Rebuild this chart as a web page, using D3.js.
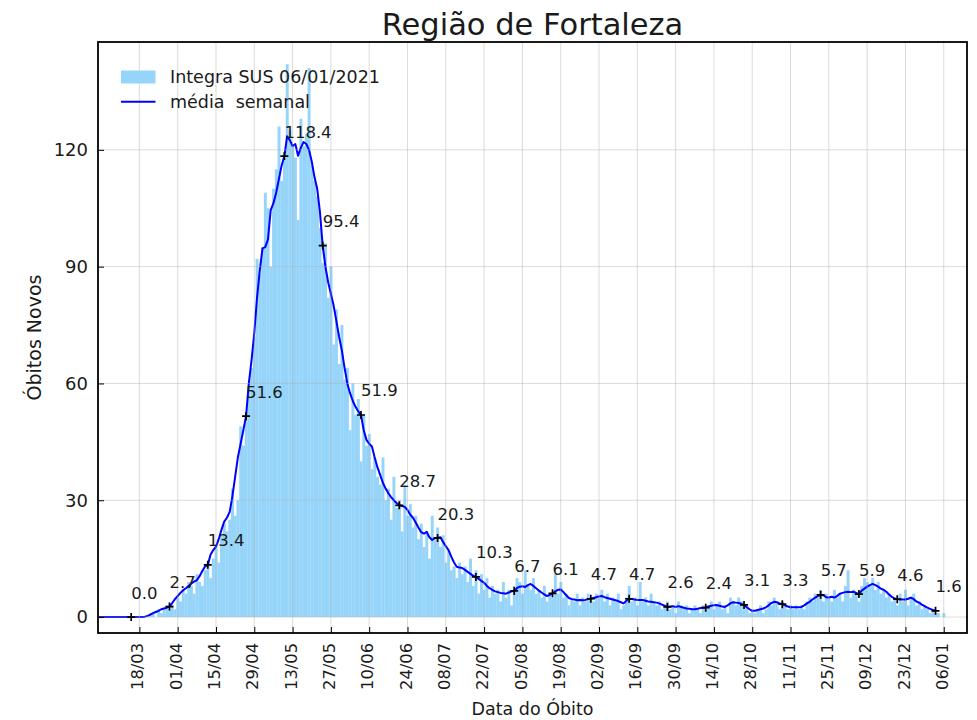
<!DOCTYPE html>
<html>
<head>
<meta charset="utf-8">
<script src="https://cdnjs.cloudflare.com/ajax/libs/d3/7.8.5/d3.min.js"></script>
<style>
    body { margin: 0; background: #fff; }
    text { font-family: "DejaVu Sans", sans-serif; fill: #1a1a1a; }
</style>
</head>
<body>
<svg id="chart" width="977" height="720"></svg>
<script>
// dia 0 = 01/03/2020
let inicio = new Date(2020, 2, 1);

// óbitos novos por dia (d0 .. d311 = 06/01/2021)
let obitos = [
    0,0,0,0,0,0,0,0,0,0,0,0,0,0,0,0,0,0,0,0,0,
    1,1,0,2,1,2,3,
    2,3,2,5,4,7,6,
    9,8,6,11,9,8,12,
    14,10,15,18,14,21,24,
    22,25,33,26,30,49,44,
    52,58,64,72,92,88,95,
    109,105,90,110,115,126,112,
    118,142,125,121,118,102,128,
    121,124,141,116,112,108,100,
    91,96,82,90,70,79,65,
    75,61,64,48,60,52,56,
    40,52,44,47,38,41,36,
    34,41,30,33,25,36,28,
    30,22,34,26,29,23,26,
    20,24,18,22,15,26,20,
    23,18,21,14,17,12,13,
    10,14,11,13,9,15,8,
    12,6,11,7,10,5,8,
    6,7,4,9,5,7,3,
    8,10,9,6,12,8,7,
    10,6,7,5,8,4,6,
    5,11,6,9,5,6,3,
    5,4,6,3,5,4,6,
    5,4,6,5,7,4,6,
    3,5,4,6,2,3,5,
    8,4,5,3,9,4,5,
    3,6,4,3,4,2,3,
    4,2,3,1,4,3,2,
    3,1,2,3,2,1,3,
    2,3,4,2,3,4,2,
    3,1,5,4,3,5,4,
    2,3,1,2,1,2,3,
    1,2,4,3,5,4,2,
    4,3,2,3,2,3,2,
    3,2,4,5,4,6,5,
    7,4,6,5,4,7,5,
    6,4,8,12,5,7,6,
    4,8,10,9,8,10,7,
    9,6,7,5,6,4,5,
    3,6,4,7,3,5,6,
    3,4,2,3,2,1,2,
    1,1,0,1
];

// média semanal (centrada), d0 .. d308
let mediaSemanal = [
    0,0,0,0,0,0,0,0,0,0,0,0,0,0,0,0,0,0,0,
    0.1,0.3,0.6,1.0,1.3,1.6,2.0,2.2,2.4,
    2.7,3.6,4.6,5.4,6.2,6.9,7.4,
    8.0,8.6,9.1,9.5,10.5,11.8,13.0,
    13.4,16.0,17.2,18.1,20.0,22.4,24.5,
    25.5,27.0,31.0,36.0,41.0,44.5,48.0,
    51.6,60.0,66.0,73.0,82.0,89.0,94.7,
    95.0,97.0,104.5,106.3,109.0,112.5,116.0,
    118.4,123.5,122.5,121.0,121.5,118.5,120.5,
    122.0,121.5,120.0,117.0,113.0,110.0,104.0,
    95.4,90.0,86.0,83.0,80.0,76.0,72.0,
    68.5,64.0,60.0,57.5,55.5,54.0,52.8,
    51.9,48.0,45.5,44.5,43.8,41.0,38.5,
    36.5,34.5,33.0,31.8,30.8,30.0,29.3,
    28.7,28.5,28.3,27.5,26.3,25.5,24.3,
    23.0,21.8,21.4,21.9,20.5,19.8,20.3,
    20.3,20.5,19.3,18.2,17.2,15.5,14.0,
    12.9,12.7,12.6,12.1,11.6,11.1,10.6,
    10.3,9.8,9.3,8.8,8.0,7.4,7.0,
    6.6,6.4,6.2,6.1,6.0,6.3,6.6,
    6.7,7.4,7.8,7.9,7.7,8.2,8.5,
    8.0,7.4,6.8,6.3,5.8,5.4,5.7,
    6.1,6.6,7.0,7.1,6.4,5.6,4.9,
    4.6,4.5,4.3,4.4,4.3,4.4,4.6,
    4.7,4.9,5.1,5.3,5.4,5.1,4.9,
    4.7,4.5,4.3,4.1,3.8,3.5,4.2,
    4.7,4.6,4.5,4.4,4.4,4.4,4.2,
    4.0,3.9,3.8,3.7,3.5,3.2,2.9,
    2.6,2.7,2.8,2.6,2.8,2.6,2.4,
    2.2,2.1,2.0,2.0,2.1,2.3,2.4,
    2.4,2.7,2.9,3.0,3.1,2.9,2.7,
    2.6,3.0,3.5,3.8,3.7,3.6,3.4,
    3.1,2.5,2.0,1.6,1.6,1.8,2.0,
    2.2,2.5,3.0,3.6,3.9,3.8,3.5,
    3.3,3.0,2.7,2.5,2.5,2.5,2.5,
    2.6,3.0,3.5,3.9,4.5,5.0,5.4,
    5.7,5.6,5.1,5.0,5.2,5.0,5.4,
    6.0,6.2,6.4,6.5,6.4,6.5,6.2,
    5.9,6.8,7.3,7.8,8.2,8.5,8.2,
    7.8,7.3,7.0,6.5,5.8,5.2,4.8,
    4.6,4.5,4.5,4.5,4.7,5.0,4.6,
    4.0,3.7,3.2,2.8,2.4,2.1,1.8,
    1.6
];

// pontos anotados (a cada 14 dias)
let diasMarcados = [14,28,42,56,70,84,98,112,126,140,154,168,182,196,210,224,238,252,266,280,294,308];
let rotulos = ['0.0','2.7','13.4','51.6','118.4','95.4','51.9','28.7','20.3','10.3','6.7','6.1',
    '4.7','4.7','2.6','2.4','3.1','3.3','5.7','5.9','4.6','1.6'];

let ticksY = [0, 30, 60, 90, 120];
let ticksX = ['18/03/2020','01/04/2020','15/04/2020','29/04/2020','13/05/2020','27/05/2020','10/06/2020',
    '24/06/2020','08/07/2020','22/07/2020','05/08/2020','19/08/2020','02/09/2020','16/09/2020',
    '30/09/2020','14/10/2020','28/10/2020','11/11/2020','25/11/2020','09/12/2020','23/12/2020','06/01/2021'];

let parse = d3.timeParse('%d/%m/%Y');
function dia(i) {
    return d3.timeDay.offset(inicio, i);
}

let mLeft = 98, mRight = 967, mTop = 42, mBottom = 633;

let x = d3.scaleTime()
    .domain([new Date(2020, 2, 2, 21), new Date(2021, 0, 14, 12)])
    .range([mLeft, mRight]);
let y = d3.scaleLinear()
    .domain([-4.1, 147.7])
    .range([mBottom, mTop]);

let svg = d3.select('#chart');
svg.append('rect').attr('width', 977).attr('height', 720).attr('fill', '#fff');

svg.append('defs').append('clipPath').attr('id', 'clip')
    .append('rect')
    .attr('x', mLeft).attr('y', mTop)
    .attr('width', mRight - mLeft).attr('height', mBottom - mTop);

let plot = svg.append('g').attr('clip-path', 'url(#clip)');

// barras diárias
let larg = x(dia(1)) - x(dia(0));
plot.selectAll('rect.bar')
    .data(obitos)
    .enter().append('rect')
    .attr('class', 'bar')
    .attr('x', function (d, i) { return x(d3.timeHour.offset(dia(i), -12)); })
    .attr('y', function (d) { return y(d); })
    .attr('width', larg + 0.2)
    .attr('height', function (d) { return y(0) - y(d); })
    .attr('fill', '#96d4fa');

// grade
let grid = svg.append('g').attr('stroke', '#b0b0b0').attr('stroke-opacity', 0.45).attr('stroke-width', 1);
grid.selectAll('line.gx')
    .data(ticksX.map(parse))
    .enter().append('line')
    .attr('x1', function (d) { return x(d); })
    .attr('x2', function (d) { return x(d); })
    .attr('y1', mTop).attr('y2', mBottom);
grid.selectAll('line.gy')
    .data(ticksY)
    .enter().append('line')
    .attr('y1', function (d) { return y(d); })
    .attr('y2', function (d) { return y(d); })
    .attr('x1', mLeft).attr('x2', mRight);

// média semanal
let line = d3.line()
    .x(function (d, i) { return x(dia(i)); })
    .y(function (d) { return y(d); });
plot.append('path')
    .attr('d', line(mediaSemanal))
    .attr('fill', 'none')
    .attr('stroke', '#0000ff')
    .attr('stroke-width', 2)
    .attr('stroke-linejoin', 'round');

// marcadores + rótulos
let marcas = svg.append('g').selectAll('g')
    .data(diasMarcados)
    .enter().append('g')
    .attr('transform', function (d) {
        return `translate(${x(dia(d))},${y(mediaSemanal[d])})`;
    });
marcas.append('path')
    .attr('d', 'M-4,0H4M0,-4V4')
    .attr('stroke', '#000')
    .attr('stroke-width', 1.7);
marcas.append('text')
    .attr('x', 0)
    .attr('y', -18.5)
    .style('font-size', '16.5px')
    .text(function (d, i) { return rotulos[i]; });

// eixos
let axisY = d3.axisLeft(y)
    .tickValues(ticksY)
    .tickSizeInner(-6)
    .tickSizeOuter(0)
    .tickPadding(10);
let gy = svg.append('g')
    .attr('transform', `translate(${mLeft},0)`)
    .call(axisY);
gy.select('.domain').remove();
gy.selectAll('line').attr('stroke', '#000');
gy.selectAll('text').style('font-size', '18px').attr('fill', '#1a1a1a');

let axisX = d3.axisBottom(x)
    .tickValues(ticksX.map(parse))
    .tickSizeInner(-6)
    .tickSizeOuter(0)
    .tickFormat(d3.timeFormat('%d/%m'));
let gx = svg.append('g')
    .attr('transform', `translate(0,${mBottom})`)
    .call(axisX);
gx.select('.domain').remove();
gx.selectAll('line').attr('stroke', '#000');
gx.selectAll('text')
    .style('font-size', '16.3px')
    .attr('fill', '#1a1a1a')
    .attr('transform', 'rotate(-90)')
    .attr('text-anchor', 'end')
    .attr('x', -10)
    .attr('y', 0)
    .attr('dy', '0.22em');

// moldura
svg.append('rect')
    .attr('x', mLeft).attr('y', mTop)
    .attr('width', mRight - mLeft).attr('height', mBottom - mTop)
    .attr('fill', 'none')
    .attr('stroke', '#000')
    .attr('stroke-width', 1.8);

// títulos
svg.append('text')
    .attr('x', (mLeft + mRight) / 2)
    .attr('y', 35)
    .attr('text-anchor', 'middle')
    .style('font-size', '30.5px')
    .text('Região de Fortaleza');
svg.append('text')
    .attr('x', (mLeft + mRight) / 2)
    .attr('y', 715)
    .attr('text-anchor', 'middle')
    .style('font-size', '17.5px')
    .text('Data do Óbito');
svg.append('text')
    .attr('transform', `translate(41,${(mTop + mBottom) / 2}) rotate(-90)`)
    .attr('text-anchor', 'middle')
    .style('font-size', '19px')
    .text('Óbitos Novos');

// legenda
let leg = svg.append('g');
leg.append('rect')
    .attr('x', 121).attr('y', 70.5)
    .attr('width', 34.5).attr('height', 13)
    .attr('fill', '#96d4fa');
leg.append('text')
    .attr('x', 170).attr('y', 83.3)
    .style('font-size', '17.5px')
    .text('Integra SUS 06/01/2021');
leg.append('line')
    .attr('x1', 121).attr('x2', 155.5)
    .attr('y1', 101.7).attr('y2', 101.7)
    .attr('stroke', '#0000ff')
    .attr('stroke-width', 2);
leg.append('text')
    .attr('x', 170).attr('y', 107.7)
    .style('font-size', '17.5px')
    .style('white-space', 'pre')
    .text('média  semanal');
</script>
</body>
</html>
